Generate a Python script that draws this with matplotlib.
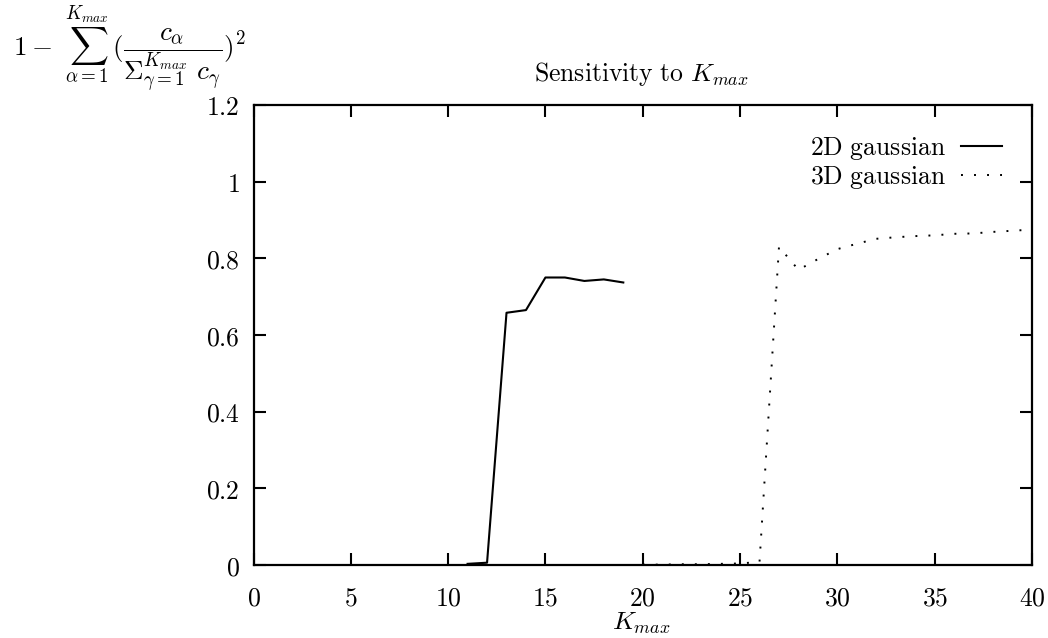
import matplotlib
matplotlib.use("Agg")
import matplotlib.pyplot as plt
from matplotlib.ticker import FixedLocator, FuncFormatter

# Data
k_2d = [11, 12, 13, 14, 15, 16, 17, 18, 19]
gini_2d = [0.003, 0.006, 0.658, 0.665, 0.750, 0.750, 0.741, 0.745, 0.737]

k_3d = [20, 21, 22, 23, 24, 25, 26, 27, 28, 29, 30, 31, 32, 33, 34, 35, 36, 37, 38, 39, 40]
gini_3d = [0.001, 0.001, 0.002, 0.002, 0.003, 0.004, 0.008, 0.830, 0.770, 0.798,
           0.824, 0.838, 0.851, 0.855, 0.858, 0.860, 0.864, 0.865, 0.869, 0.872, 0.875]

x_ticks = [0, 5, 10, 15, 20, 25, 30, 35, 40]
y_ticks = [0, 0.2, 0.4, 0.6, 0.8, 1.0, 1.2]
series_labels = [r"$\mathrm{2D\ gaussian}$", r"$\mathrm{3D\ gaussian}$"]

plt.rcParams["mathtext.fontset"] = "cm"
plt.rcParams["font.family"] = "DejaVu Serif"
fs = 18.5

fig = plt.figure(figsize=(10.48, 6.38), dpi=100)
ax = fig.add_axes([253.5 / 1048, 1 - 565 / 638, (1032 - 253.5) / 1048, (565 - 105) / 638])

ax.plot(k_2d, gini_2d, color="black", lw=1.5, label=series_labels[0])
ax.plot(k_3d, gini_3d, color="black", lw=1.4, linestyle=(0, (1, 5.7)), label=series_labels[1])

ax.set_xlim(0, 40)
ax.set_ylim(0, 1.2)
ax.xaxis.set_major_locator(FixedLocator(x_ticks))
ax.yaxis.set_major_locator(FixedLocator(y_ticks))
ax.xaxis.set_major_formatter(FuncFormatter(lambda v, p: r"$%d$" % v))
ax.yaxis.set_major_formatter(FuncFormatter(lambda v, p: r"$%g$" % round(v, 1)))
ax.tick_params(direction="in", length=8.5, width=1.5, top=True, right=True,
               labelsize=fs)
ax.tick_params(axis="x", pad=15)
ax.tick_params(axis="y", pad=10)
for s in ax.spines.values():
    s.set_linewidth(1.6)

# axis label, title and the y formula are placed by hand like in the original
fig.text(641 / 1048, 1 - 630 / 638, r"$K_{max}$", fontsize=fs, ha="center", va="baseline")

fig.text(641 / 1048, 1 - 81 / 638, r"$\mathrm{Sensitivity\ to\ }K_{max}$",
         fontsize=fs, ha="center", va="baseline")

fig.text(13 / 1048, 1 - 57 / 638,
         r"$1-\ \sum_{\alpha=1}^{K_{max}}\,(\dfrac{c_\alpha}{\Sigma_{\gamma=1}^{K_{max}}\ c_\gamma})^2$",
         fontsize=19.5, ha="left", va="baseline")

leg = ax.legend(loc="upper right", frameon=False, markerfirst=False, fontsize=fs,
                handlelength=1.6, handletextpad=0.6, labelspacing=0.1,
                borderaxespad=0.75)

fig.savefig("out.png", dpi=100)
